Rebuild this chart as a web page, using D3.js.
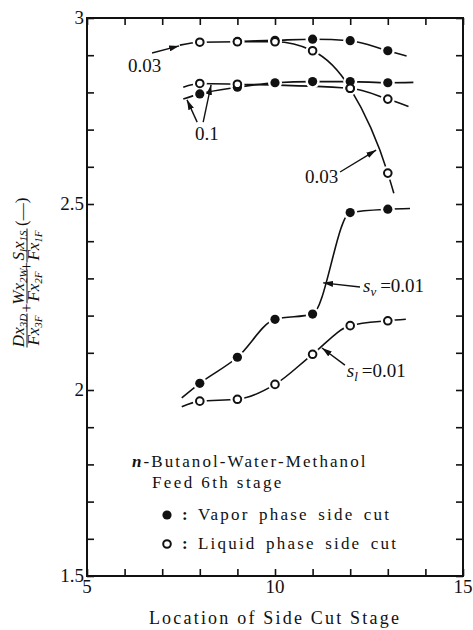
<!DOCTYPE html>
<html>
<head>
<meta charset="utf-8">
<script src="https://cdn.jsdelivr.net/npm/d3@7"></script>
<style>
  body { margin: 0; background: #fff; }
  svg { display: block; }
  svg text { font-family: "Liberation Serif", "Times New Roman", Times, serif !important; fill: #111; }
</style>
</head>
<body>
<div id="chart-container"></div>
<script>
// Data
const stages = [8, 9, 10, 11, 12, 13];
const vapor003 = [null, 2.937, 2.940, 2.943, 2.939, 2.912];
const liquid003 = [2.935, 2.936, 2.936, 2.912, 2.811, 2.583];
const vapor01 = [2.796, 2.814, 2.826, 2.829, 2.829, 2.826];
const liquid01 = [2.824, 2.822, null, null, 2.811, 2.782];
const vapor001 = [2.018, 2.088, 2.190, 2.204, 2.477, 2.486];
const liquid001 = [1.970, 1.975, 2.015, 2.096, 2.173, 2.186];

// where each drawn curve starts and ends beyond the measured points
const curveKinds = ["vapor", "liquid", "vapor", "liquid", "vapor", "liquid"];
const leadX = [null, 7.47, 7.56, 7.56, 7.52, 7.52];
const leadY = [null, 2.927, 2.782, 2.814, 1.979, 1.955];
const tailX = [13.50, 13.16, 13.68, 13.55, 13.59, 13.48];
const tailY = [2.898, 2.529, 2.827, 2.762, 2.488, 2.190];

const xTickLabels = [5, 10, 15];
const yTickLabels = [1.5, 2, 2.5, 3];

// annotation labels with their arrows
const noteSym = ["", "", "", "s", "s"];
const noteSub = ["", "", "", "v", "l"];
const noteText = ["0.03", "0.1", "0.03", "=0.01", "=0.01"];
const noteX = [6.09, 7.87, 10.80, 12.34, 11.91];
const noteY = [2.855, 2.672, 2.556, 2.263, 2.035];
const arrowX1 = [6.73, 7.93, 8.09, 11.73, 12.26, 11.86];
const arrowY1 = [2.906, 2.720, 2.720, 2.586, 2.277, 2.067];
const arrowX2 = [7.45, 7.66, 8.30, 12.69, 11.28, 11.25];
const arrowY2 = [2.925, 2.780, 2.820, 2.645, 2.288, 2.113];

// Chart size
const margin = { top: 18, right: 10, bottom: 54, left: 87 };
const width = 473 - margin.left - margin.right;
const height = 630 - margin.top - margin.bottom;

const x = d3.scaleLinear().domain([5, 15]).range([0, width]);
const y = d3.scaleLinear().domain([1.5, 3]).range([height, 0]);

const root = d3.select("#chart-container")
  .append("svg")
  .attr("width", width + margin.left + margin.right)
  .attr("height", height + margin.top + margin.bottom)
  .style("font-family", "'Liberation Serif', serif");

root.append("defs").append("marker")
  .attr("id", "arrow")
  .attr("viewBox", "0 0 10 6")
  .attr("refX", 10)
  .attr("refY", 3)
  .attr("markerWidth", 10)
  .attr("markerHeight", 6)
  .attr("markerUnits", "userSpaceOnUse")
  .attr("orient", "auto")
  .append("path")
  .attr("d", "M0,0 L10,3 L0,6 Z")
  .attr("fill", "#111");

const svg = root.append("g")
  .attr("transform", `translate(${margin.left},${margin.top})`);

// build the series table
const series = [vapor003, liquid003, vapor01, liquid01, vapor001, liquid001].map((vals, i) => {
  const pts = stages.map((s, j) => ({ x: s, y: vals[j] })).filter(d => d.y !== null);
  const path = pts.slice();
  if (leadX[i] !== null) path.unshift({ x: leadX[i], y: leadY[i] });
  path.push({ x: tailX[i], y: tailY[i] });
  return { kind: curveKinds[i], pts, path };
});

// Frame with inward ticks on all four sides
svg.append("rect")
  .attr("width", width)
  .attr("height", height)
  .attr("fill", "none")
  .attr("stroke", "#111")
  .attr("stroke-width", 2);

const tickLen = 7;
svg.append("g")
  .attr("transform", `translate(0,${height})`)
  .call(d3.axisBottom(x).ticks(10).tickSize(-tickLen).tickFormat(""))
  .call(g => g.select(".domain").remove());
svg.append("g")
  .call(d3.axisTop(x).ticks(10).tickSize(-tickLen).tickFormat(""))
  .call(g => g.select(".domain").remove());
svg.append("g")
  .call(d3.axisLeft(y).ticks(15).tickSize(-tickLen).tickFormat(""))
  .call(g => g.select(".domain").remove());
svg.append("g")
  .attr("transform", `translate(${width},0)`)
  .call(d3.axisRight(y).ticks(15).tickSize(-tickLen).tickFormat(""))
  .call(g => g.select(".domain").remove());
svg.selectAll(".tick line").attr("stroke", "#111").attr("stroke-width", 1.6);
svg.selectAll(".tick text").remove();

// tick labels
svg.selectAll(".xlab")
  .data(xTickLabels)
  .join("text")
  .attr("x", d => x(d))
  .attr("y", height + 17)
  .attr("text-anchor", "middle")
  .style("font-size", "19px")
  .text(d => d);

svg.selectAll(".ylab")
  .data(yTickLabels)
  .join("text")
  .attr("x", -3)
  .attr("y", d => y(d) + 6)
  .attr("text-anchor", "end")
  .style("font-size", "19px")
  .text(d => d);

// x-axis title
root.append("text")
  .attr("x", margin.left + width / 2)
  .attr("y", 624)
  .attr("text-anchor", "middle")
  .style("font-size", "18px")
  .style("letter-spacing", "2.2px")
  .text("Location of Side Cut Stage");

// y-axis title, built from stacked fractions
const ylab = root.append("g").attr("transform", "translate(0,348) rotate(-90)");
const fracs = [
  { c: 17.5, num: [["D", ""], ["x", "3D"]], den: [["F", ""], ["x", "3F"]] },
  { c: 61.5, num: [["W", ""], ["x", "2W"]], den: [["F", ""], ["x", "2F"]] },
  { c: 102.5, num: [["S", "l"], ["x", "1S"]], den: [["F", ""], ["x", "1F"]] }
];
function writeParts(t, parts) {
  let shift = 0;
  parts.forEach(([main, sub]) => {
    t.append("tspan").attr("dy", -shift).text(main);
    shift = 0;
    if (sub) {
      t.append("tspan").attr("dy", 3).style("font-size", "11px").text(sub);
      shift = 3;
    }
  });
}
fracs.forEach(f => {
  const n = ylab.append("text")
    .attr("x", f.c).attr("y", 24)
    .attr("text-anchor", "middle")
    .style("font-size", "17px").style("font-style", "italic");
  writeParts(n, f.num);
  const d = ylab.append("text")
    .attr("x", f.c).attr("y", 39)
    .attr("text-anchor", "middle")
    .style("font-size", "17px").style("font-style", "italic");
  writeParts(d, f.den);
  ylab.append("line")
    .attr("x1", f.c - 17).attr("x2", f.c + 17)
    .attr("y1", 27).attr("y2", 27)
    .attr("stroke", "#111").attr("stroke-width", 1);
});
[40, 81.5].forEach(u => {
  ylab.append("text")
    .attr("x", u).attr("y", 32)
    .attr("text-anchor", "middle")
    .style("font-size", "16px")
    .text("+");
});
ylab.append("text")
  .attr("x", 122).attr("y", 27)
  .style("font-size", "17px")
  .text("(\u2014)");

// curves
const line = d3.line()
  .x(d => x(d.x))
  .y(d => y(d.y))
  .curve(d3.curveMonotoneX);

svg.selectAll(".curve")
  .data(series)
  .join("path")
  .attr("fill", "none")
  .attr("stroke", "#111")
  .attr("stroke-width", 1.6)
  .attr("d", d => line(d.path));

// white gaps around markers, then markers
const allPts = series.flatMap(s => s.pts.map(p => ({ ...p, kind: s.kind })));
svg.selectAll(".halo")
  .data(allPts)
  .join("circle")
  .attr("cx", d => x(d.x))
  .attr("cy", d => y(d.y))
  .attr("r", 7)
  .attr("fill", "#fff");

svg.selectAll(".vap")
  .data(allPts.filter(d => d.kind === "vapor"))
  .join("circle")
  .attr("cx", d => x(d.x))
  .attr("cy", d => y(d.y))
  .attr("r", 4.6)
  .attr("fill", "#111");

svg.selectAll(".liq")
  .data(allPts.filter(d => d.kind === "liquid"))
  .join("circle")
  .attr("cx", d => x(d.x))
  .attr("cy", d => y(d.y))
  .attr("r", 3.8)
  .attr("fill", "#fff")
  .attr("stroke", "#111")
  .attr("stroke-width", 2);

// annotations
svg.selectAll(".arrow")
  .data(arrowX1)
  .join("line")
  .attr("x1", d => x(d))
  .attr("y1", (d, i) => y(arrowY1[i]))
  .attr("x2", (d, i) => x(arrowX2[i]))
  .attr("y2", (d, i) => y(arrowY2[i]))
  .attr("stroke", "#111")
  .attr("stroke-width", 1.4)
  .attr("marker-end", "url(#arrow)");

noteText.forEach((t, i) => {
  const txt = svg.append("text")
    .attr("x", x(noteX[i]))
    .attr("y", y(noteY[i]))
    .style("font-size", "19px");
  if (noteSym[i]) {
    txt.append("tspan").style("font-style", "italic").text(noteSym[i]);
    txt.append("tspan").attr("dy", 4).style("font-style", "italic").style("font-size", "13px").text(noteSub[i]);
    txt.append("tspan").attr("dy", -4).attr("dx", 4).text(t);
  } else {
    txt.text(t);
  }
});

// legend
const legend = svg.append("g").attr("transform", "translate(45,0)");
legend.append("text")
  .attr("x", 0).attr("y", 449)
  .style("font-size", "17px")
  .style("letter-spacing", "2.1px")
  .call(t => {
    t.append("tspan").style("font-style", "italic").style("font-weight", "bold").text("n");
    t.append("tspan").text("-Butanol-Water-Methanol");
  });
legend.append("text")
  .attr("x", 20).attr("y", 470)
  .style("font-size", "17px")
  .style("letter-spacing", "2.4px")
  .text("Feed 6th stage");

const legendKinds = ["vapor", "liquid"];
const legendLabels = ["Vapor phase side cut", "Liquid phase side cut"];
legendKinds.forEach((k, i) => {
  const ly = 497 + i * 29;
  legend.append("circle")
    .attr("cx", 35).attr("cy", ly)
    .attr("r", k === "vapor" ? 4.6 : 3.8)
    .attr("fill", k === "vapor" ? "#111" : "#fff")
    .attr("stroke", "#111")
    .attr("stroke-width", k === "vapor" ? 0 : 2);
  legend.append("text")
    .attr("x", 50).attr("y", ly + 5)
    .style("font-size", "17px")
    .style("font-weight", "bold")
    .text(":");
  legend.append("text")
    .attr("x", 66).attr("y", ly + 5)
    .style("font-size", "17px")
    .style("letter-spacing", "2.2px")
    .style("word-spacing", "3px")
    .text(legendLabels[i]);
});
</script>
</body>
</html>
